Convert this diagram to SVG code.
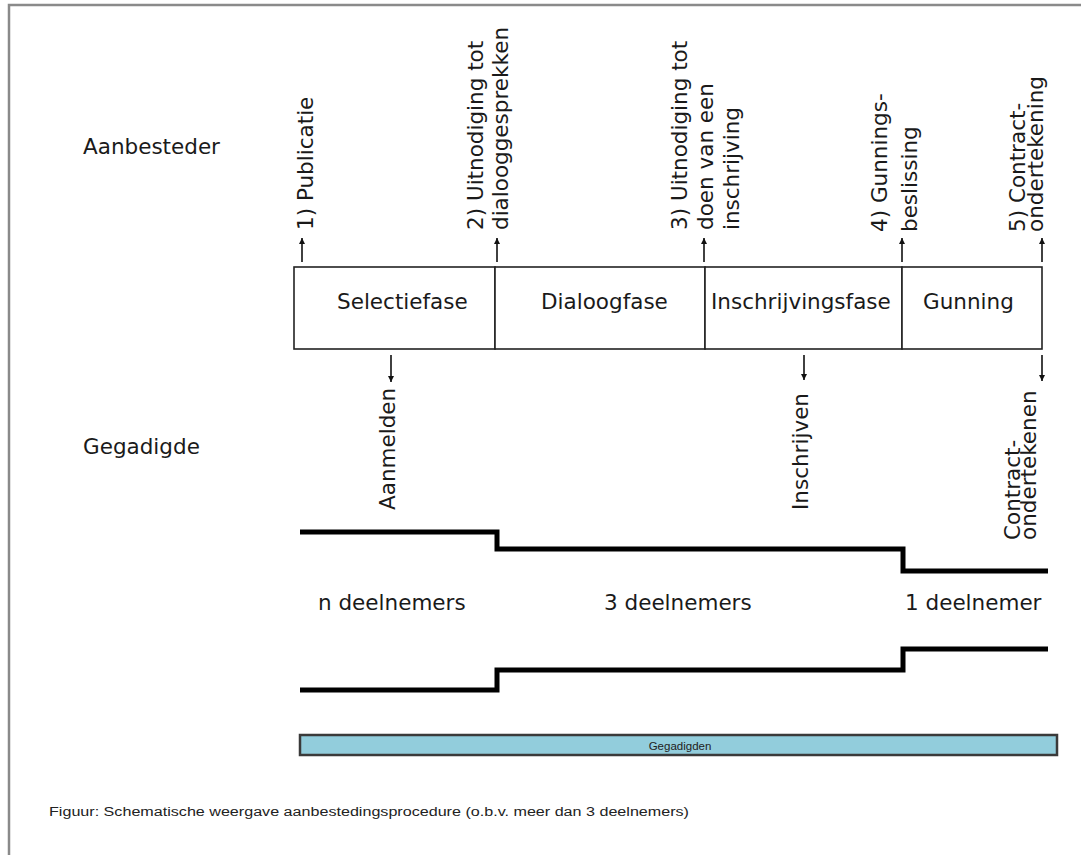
<svg xmlns="http://www.w3.org/2000/svg" width="1081" height="855" viewBox="0 0 1081 855">
<style>
.lbl{font-family:"DejaVu Sans",Verdana,sans-serif;font-size:21.5px;fill:#1a1a1a}
.box{fill:#fff;stroke:#222;stroke-width:1.6}
.arr{stroke:#111;stroke-width:1.6;fill:none}
.step{stroke:#000;stroke-width:5;fill:none;stroke-linejoin:miter}
.small{font-family:"Liberation Sans",Arial,sans-serif;fill:#222}
</style>
<defs>
<marker id="ah" markerUnits="userSpaceOnUse" markerWidth="7" markerHeight="7" refX="6" refY="3" orient="auto">
<path d="M0,0 L6,3 L0,6 z" fill="#111"/>
</marker>
</defs>
<rect width="1081" height="855" fill="#fff"/>
<g id="frame" stroke="#8a8a8a" stroke-width="2.5" fill="none">
<path d="M9,855 V5 H1081"/>
</g>
<g id="role-aanbesteder"><text class="lbl" x="83" y="154">Aanbesteder</text></g>
<g id="role-gegadigde"><text class="lbl" x="83" y="454">Gegadigde</text></g>

<g id="phase-selectiefase"><rect class="box" x="294" y="267" width="201" height="82"/><text class="lbl" x="337" y="309">Selectiefase</text></g>
<g id="phase-dialoogfase"><rect class="box" x="495" y="267" width="210" height="82"/><text class="lbl" x="541" y="309">Dialoogfase</text></g>
<g id="phase-inschrijvingsfase"><rect class="box" x="705" y="267" width="197" height="82"/><text class="lbl" x="711" y="309">Inschrijvingsfase</text></g>
<g id="phase-gunning"><rect class="box" x="902" y="267" width="140" height="82"/><text class="lbl" x="923" y="309">Gunning</text></g>

<g id="connectors">
<line class="arr" x1="302" y1="262" x2="302" y2="238" marker-end="url(#ah)"/>
<line class="arr" x1="497" y1="262" x2="497" y2="238" marker-end="url(#ah)"/>
<line class="arr" x1="704" y1="262" x2="704" y2="238" marker-end="url(#ah)"/>
<line class="arr" x1="902" y1="262" x2="902" y2="238" marker-end="url(#ah)"/>
<line class="arr" x1="1042" y1="262" x2="1042" y2="238" marker-end="url(#ah)"/>
<line class="arr" x1="391" y1="355" x2="391" y2="382" marker-end="url(#ah)"/>
<line class="arr" x1="804" y1="355" x2="804" y2="380" marker-end="url(#ah)"/>
<line class="arr" x1="1042" y1="355" x2="1042" y2="381" marker-end="url(#ah)"/>
</g>

<g id="event-1"><text class="lbl" transform="translate(313,230) rotate(-90)">1) Publicatie</text></g>
<g id="event-2"><text class="lbl" transform="translate(483,230) rotate(-90)">2) Uitnodiging tot<tspan x="0" dy="25">dialooggesprekken</tspan></text></g>
<g id="event-3"><text class="lbl" transform="translate(687,230) rotate(-90)">3) Uitnodiging tot<tspan x="0" dy="26">doen van een</tspan><tspan x="0" dy="26">inschrijving</tspan></text></g>
<g id="event-4"><text class="lbl" transform="translate(887,232) rotate(-90)">4) Gunnings-<tspan x="0" dy="30">beslissing</tspan></text></g>
<g id="event-5"><text class="lbl" transform="translate(1025,232) rotate(-90)">5) Contract-<tspan x="0" dy="18">ondertekening</tspan></text></g>

<g id="action-aanmelden"><text class="lbl" transform="translate(395,510) rotate(-90)">Aanmelden</text></g>
<g id="action-inschrijven"><text class="lbl" transform="translate(808,510) rotate(-90)">Inschrijven</text></g>
<g id="action-contract"><text class="lbl" transform="translate(1020,540) rotate(-90)">Contract-<tspan x="0" dy="16">ondertekenen</tspan></text></g>

<g id="steps">
<path class="step" d="M300,532 H497 V549 H903 V571 H1048"/>
<path class="step" d="M300,690 H497 V670 H903 V649 H1048"/>
</g>
<g id="counts">
<text class="lbl" x="318" y="610">n deelnemers</text>
<text class="lbl" x="604" y="610">3 deelnemers</text>
<text class="lbl" x="905" y="610">1 deelnemer</text>
</g>

<g id="bar-gegadigden">
<rect x="300" y="735" width="757" height="20" fill="#92cddc" stroke="#3a3a3a" stroke-width="2.5"/>
<text class="small" x="680" y="749.5" font-size="11.5" text-anchor="middle">Gegadigden</text>
</g>

<g id="caption">
<text class="small" x="49" y="816" font-size="12" textLength="640" lengthAdjust="spacingAndGlyphs">Figuur: Schematische weergave aanbestedingsprocedure (o.b.v. meer dan 3 deelnemers)</text>
</g>
</svg>
